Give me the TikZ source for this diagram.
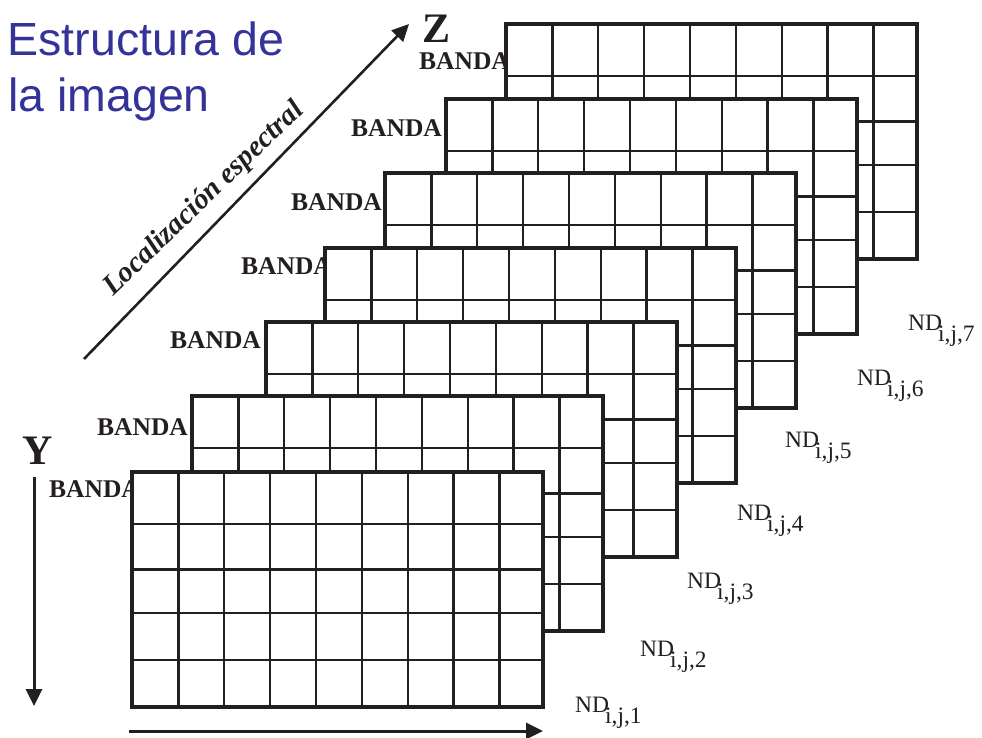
\documentclass[tikz,border=0pt]{standalone}
\usepackage{fontspec}
\setmainfont{Liberation Serif}
\newfontfamily\titlefont{Liberation Sans}
\usetikzlibrary{arrows.meta}
\definecolor{ink}{RGB}{35,31,32}
\definecolor{titleblue}{RGB}{51,51,153}
\tikzset{
 bandbox/.style={draw=ink, line width=3.8pt, fill=white, inner sep=0pt, outer sep=0pt, minimum width=411pt, minimum height=235pt, anchor=north west},
 cellline/.style={draw=ink, line width=2.2pt},
 bandlabel/.style={font=\fontsize{25.5}{30}\selectfont\bfseries, text=ink, inner sep=0pt, anchor=base west},
 ndlabel/.style={font=\fontsize{23.5}{28}\selectfont, text=ink, inner sep=0pt, anchor=base west},
 axislabel/.style={font=\fontsize{42}{48}\selectfont\bfseries, text=ink, inner sep=0pt, anchor=base west},
 axisarrow/.style={draw=ink, line width=3pt, -{Triangle[length=17pt,width=16pt]}},
 titletext/.style={font=\titlefont\fontsize{46.5}{57}\selectfont, text=titleblue, inner sep=0pt, anchor=base west},
}
\begin{document}
\begin{tikzpicture}[x=1pt,y=-1pt]
\useasboundingbox (0,0) rectangle (982,738);
% title
\node[titletext] (t1) at (7.5,56) {Estructura de};
\node[titletext] (t2) at (8,112) {la imagen};
% bands, back to front
\foreach \k/\x/\y/\lx/\ly in {7/506/24/419/70, 6/446/99/351/137, 5/385/173/291/211, 4/325/248/241/274, 3/266/322/170/348, 2/192/396/97/435, 1/132/472/49/497} {
  \node[bandlabel] (lab\k) at (\lx,\ly) {BANDA};
  \node[bandbox] (g\k) at (\x,\y) {};
  \foreach \c in {46.5,92,138,184,230,276,321.5,367.5}
    \draw[cellline] ([xshift=\c pt]g\k.north west) -- ([xshift=\c pt]g\k.south west);
  \foreach \r in {52,97.5,141,188}
    \draw[cellline] ([yshift=-\r pt]g\k.north west) -- ([yshift=-\r pt]g\k.north east);
  \draw[ink, line width=3.8pt] (g\k.north west) rectangle (g\k.south east);
}
% ND labels
\foreach \k/\x/\y in {7/908/330, 6/857/385, 5/785/447, 4/737/520, 3/687/588, 2/640/656, 1/575/712} {
  \node[ndlabel] (nd\k) at (\x,\y) {ND\kern-4pt\raisebox{-11pt}{i,j,\k}};
}
% axes
\coordinate (zs) at (84,359);
\coordinate (ze) at (409,24);
\draw[axisarrow, line width=2.6pt] (zs) -- (ze);
\node[axislabel] (zl) at (422,43) {Z};
\coordinate (ys) at (34,477);
\coordinate (ye) at (34,706);
\draw[axisarrow] (ys) -- (ye);
\node[axislabel] (yl) at (22,464) {Y};
\coordinate (xs) at (129,731);
\coordinate (xe) at (543,731);
\draw[axisarrow] (xs) -- (xe);
\node[font=\fontsize{29}{34}\selectfont\bfseries\itshape, text=ink, inner sep=0pt, anchor=base west, rotate=44] (loc) at (113,297) {Localización espectral};
\end{tikzpicture}
\end{document}
